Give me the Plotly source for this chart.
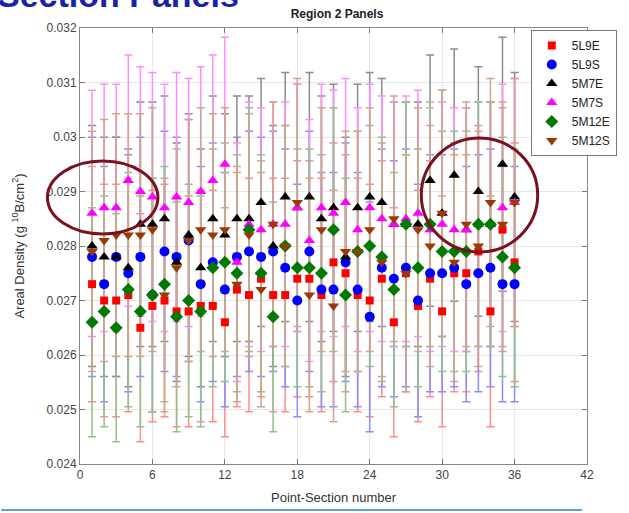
import plotly.graph_objects as go

points = list(range(1, 37))

l9e = [0.0273, 0.0270, 0.0270, 0.0271, 0.0265, 0.0269, 0.0270, 0.0268, 0.0268, 0.0269,
       0.0269, 0.0266, 0.0272, 0.0271, 0.0274, 0.0271, 0.0271, 0.0274, 0.0274, 0.0271,
       0.0277, 0.0275, 0.0271, 0.0270, 0.0274, 0.0266, 0.0275, 0.0269, 0.0274, 0.0268,
       0.0275, 0.0275, 0.0279, 0.0268, 0.0283, 0.0277]
l9s = [0.0278, 0.0273, 0.0278, 0.0275, 0.0278, 0.0271, 0.0279, 0.0278, 0.0281, 0.0273,
       0.0277, 0.0272, 0.0278, 0.0279, 0.0278, 0.0279, 0.0276, 0.0270, 0.0279, 0.0272,
       0.0272, 0.0277, 0.0272, 0.0267, 0.0276, 0.0274, 0.0276, 0.0270, 0.0275, 0.0275,
       0.0276, 0.0273, 0.0275, 0.0276, 0.0273, 0.0273]
m7e = [0.0280, 0.0278, 0.0278, 0.0276, 0.0284, 0.0284, 0.0285, 0.0277, 0.0282, 0.0276,
       0.0285, 0.0282, 0.0285, 0.0285, 0.0288, 0.0280, 0.0289, 0.0287, 0.0289, 0.0285,
       0.0287, 0.0278, 0.0287, 0.0289, 0.0288, 0.0284, 0.0284, 0.0284, 0.0292, 0.0286,
       0.0293, 0.0283, 0.0290, 0.0284, 0.0295, 0.0289]
m7s = [0.0286, 0.0287, 0.0287, 0.0292, 0.0290, 0.0289, 0.0287, 0.0289, 0.0288, 0.0290,
       0.0292, 0.0295, 0.0277, 0.0284, 0.0283, 0.0284, 0.0284, 0.0287, 0.0281, 0.0287,
       0.0286, 0.0288, 0.0283, 0.0287, 0.0285, 0.0284, 0.0285, 0.0286, 0.0283, 0.0284,
       0.0283, 0.0283, 0.0284, 0.0284, 0.0287, 0.0288]
m12e = [0.0266, 0.0268, 0.0265, 0.0272, 0.0268, 0.0271, 0.0273, 0.0267, 0.0270, 0.0268,
        0.0276, 0.0277, 0.0275, 0.0283, 0.0275, 0.0267, 0.0280, 0.0276, 0.0276, 0.0275,
        0.0283, 0.0271, 0.0279, 0.0280, 0.0278, 0.0272, 0.0284, 0.0276, 0.0284, 0.0279,
        0.0279, 0.0279, 0.0284, 0.0284, 0.0278, 0.0276]
m12s = [0.0279, 0.0281, 0.0282, 0.0282, 0.0282, 0.0283, 0.0271, 0.0276, 0.0281, 0.0283,
        0.0282, 0.0283, 0.0273, 0.0282, 0.0272, 0.0284, 0.0280, 0.0288, 0.0271, 0.0283,
        0.0269, 0.0279, 0.0279, 0.0283, 0.0277, 0.0285, 0.0275, 0.0283, 0.0280, 0.0286,
        0.0277, 0.0284, 0.0280, 0.0288, 0.0284, 0.0288]

error_percent = 7.9

series_names = ["5L9E", "5L9S", "5M7E", "5M7S", "5M12E", "5M12S"]
series_vals = [l9e, l9s, m7e, m7s, m12e, m12s]
marker_colors = ["#ff0000", "#0000ff", "#000000", "#ff00ff", "#007a00", "#9a3a06"]
error_colors = ["#ff8c8c", "#8c8cff", "#8c8c8c", "#ff8cff", "#8cc48c", "#d2a48c"]
symbols = ["square", "circle", "triangle-up", "triangle-up", "diamond", "triangle-down"]
sizes = [8, 10, 10, 10, 10, 10]

x_ticks = [0, 6, 12, 18, 24, 30, 36, 42]

fig = go.Figure()

# error bars first (beneath markers)
for name, vals, ec in zip(series_names, series_vals, error_colors):
    fig.add_trace(go.Scatter(
        x=points, y=vals, mode="markers", showlegend=False, hoverinfo="skip",
        marker=dict(color="rgba(0,0,0,0)", size=1),
        error_y=dict(type="percent", value=error_percent, color=ec, thickness=1.5, width=4),
    ))

for name, vals, mc, sym, sz in zip(series_names, series_vals, marker_colors, symbols, sizes):
    fig.add_trace(go.Scatter(
        x=points, y=vals, mode="markers", name=name,
        marker=dict(color=mc, symbol=sym, size=sz, line=dict(width=0)),
    ))

font_family = "Liberation Sans, Arial, sans-serif"

fig.update_layout(
    width=629, height=513,
    margin=dict(l=80, r=35, t=28, b=49),
    paper_bgcolor="white", plot_bgcolor="white",
    font=dict(family=font_family, size=12, color="#333333"),
    title=dict(text="<b>Region 2 Panels</b>", x=(337) / 629, xanchor="center",
               yref="container", y=1 - 14 / 513, yanchor="middle",
               font=dict(size=12, color="#222222")),
    showlegend=True,
    legend=dict(x=(537 - 80) / 514, xanchor="left", y=(464 - 30) / 436, yanchor="top",
                bgcolor="white", bordercolor="#777777", borderwidth=1,
                font=dict(size=12, color="#222222"), tracegroupgap=0),
    xaxis=dict(range=[0, 42], tickvals=x_ticks, ticks="inside", ticklen=5, tickcolor="#777777",
               showline=True, linecolor="#888888", linewidth=1, mirror="ticks",
               showgrid=True, gridcolor="#e8e8e8", zeroline=False, automargin=False,
               title=dict(text="Point-Section number", font=dict(size=13, color="#333333"), standoff=11),
               tickfont=dict(size=12, color="#444444")),
    yaxis=dict(range=[0.024, 0.032], dtick=0.001, ticks="inside", ticklen=5, tickcolor="#777777",
               showline=True, linecolor="#888888", linewidth=1, mirror="ticks",
               showgrid=True, gridcolor="#e8e8e8", zeroline=False, automargin=False,
               title=dict(text="Areal Density (g <sup>10</sup>B/cm<sup>2</sup>)",
                          font=dict(size=13, color="#333333"), standoff=19),
               tickfont=dict(size=12, color="#444444")),
)

# partially visible slide heading at the very top
fig.add_annotation(text="<b>Section Panels</b>", xref="paper", yref="paper",
                   x=(-6 - 80) / 514, xanchor="left", y=(464 - 16) / 436, yanchor="bottom",
                   showarrow=False, font=dict(size=34, color="#1a23a8", family=font_family))

# highlight ellipses
fig.add_shape(type="circle", xref="paper", yref="paper",
              x0=(47 - 80) / 514, x1=(159 - 80) / 514, y0=(464 - 234) / 436, y1=(464 - 161) / 436,
              line=dict(color="#7a1020", width=3))
fig.add_shape(type="circle", xref="paper", yref="paper",
              x0=(426 - 80) / 514, x1=(544 - 80) / 514, y0=(464 - 252) / 436, y1=(464 - 138) / 436,
              line=dict(color="#7a1020", width=3))
# slide separator line at the bottom
fig.add_shape(type="line", xref="paper", yref="paper",
              x0=(0 - 80) / 514, x1=(589 - 80) / 514, y0=(464 - 510) / 436, y1=(464 - 510) / 436,
              line=dict(color="#2f7fc1", width=1.5))

fig.write_html("out.html", config={"displayModeBar": False},
               post_script="document.body.style.margin='0';document.body.style.overflow='hidden';")
